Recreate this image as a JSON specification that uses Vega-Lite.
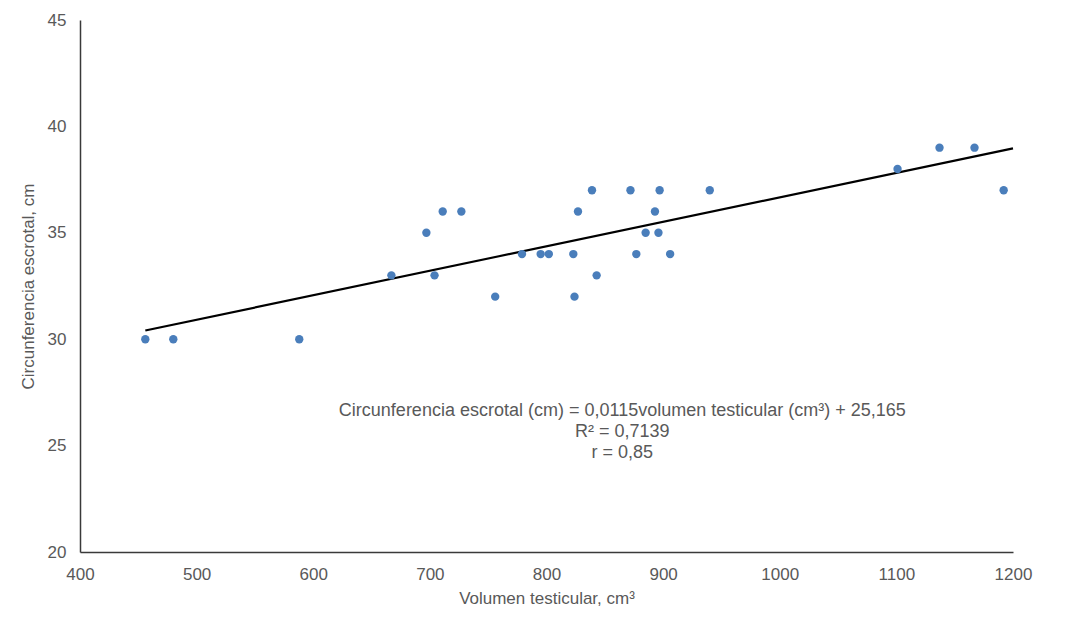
{
  "$schema": "https://vega.github.io/schema/vega-lite/v6.json",
  "width": 933,
  "height": 532,
  "autosize": {"type": "none"},
  "padding": {"left": 80, "top": 20, "right": 52, "bottom": 77},
  "background": "white",
  "config": {
    "view": {"stroke": null},
    "font": "Liberation Sans",
    "axis": {
      "labelFont": "Liberation Sans",
      "titleFont": "Liberation Sans",
      "labelFontSize": 17,
      "titleFontSize": 17,
      "labelColor": "#595959",
      "titleColor": "#595959",
      "titleFontWeight": "normal",
      "grid": false,
      "ticks": false,
      "labelFlush": false,
      "domainColor": "#3a3a3a",
      "domainWidth": 1.5
    }
  },
  "datasets": {
    "points": [
      {"vol": 456, "circ": 30},
      {"vol": 480, "circ": 30},
      {"vol": 588, "circ": 30},
      {"vol": 667, "circ": 33},
      {"vol": 697, "circ": 35},
      {"vol": 704, "circ": 33},
      {"vol": 711, "circ": 36},
      {"vol": 727, "circ": 36},
      {"vol": 756, "circ": 32},
      {"vol": 779, "circ": 34},
      {"vol": 795, "circ": 34},
      {"vol": 802, "circ": 34},
      {"vol": 823, "circ": 34},
      {"vol": 824, "circ": 32},
      {"vol": 827, "circ": 36},
      {"vol": 839, "circ": 37},
      {"vol": 843, "circ": 33},
      {"vol": 872, "circ": 37},
      {"vol": 877, "circ": 34},
      {"vol": 885, "circ": 35},
      {"vol": 893, "circ": 36},
      {"vol": 896, "circ": 35},
      {"vol": 897, "circ": 37},
      {"vol": 906, "circ": 34},
      {"vol": 940, "circ": 37},
      {"vol": 1101, "circ": 38},
      {"vol": 1137, "circ": 39},
      {"vol": 1167, "circ": 39},
      {"vol": 1192, "circ": 37}
    ],
    "trend": [
      {"vol": 456, "circ": 30.409},
      {"vol": 1200, "circ": 38.965}
    ],
    "note": [
      {"vol": 865, "circ": 26.63, "label": "Circunferencia escrotal (cm) = 0,0115volumen testicular (cm³) + 25,165\nR² = 0,7139\nr = 0,85"}
    ]
  },
  "layer": [
    {
      "data": {"name": "trend"},
      "mark": {"type": "line", "color": "#000000", "strokeWidth": 2.2},
      "encoding": {
        "x": {
          "field": "vol", "type": "quantitative",
          "scale": {"domain": [400, 1200], "nice": false, "zero": false},
          "axis": {"title": "Volumen testicular, cm³", "format": "d", "values": [400, 500, 600, 700, 800, 900, 1000, 1100, 1200], "labelPadding": 14, "titlePadding": 8}
        },
        "y": {
          "field": "circ", "type": "quantitative",
          "scale": {"domain": [20, 45], "nice": false, "zero": false},
          "axis": {"title": "Circunferencia escrotal, cm", "format": "d", "values": [20, 25, 30, 35, 40, 45], "labelPadding": 14, "titlePadding": 10}
        }
      }
    },
    {
      "data": {"name": "points"},
      "mark": {"type": "circle", "color": "#4a7ebb", "opacity": 1, "size": 70},
      "encoding": {
        "x": {"field": "vol", "type": "quantitative"},
        "y": {"field": "circ", "type": "quantitative"}
      }
    },
    {
      "data": {"name": "note"},
      "mark": {"type": "text", "fontSize": 18, "color": "#595959", "align": "center", "baseline": "middle", "lineBreak": "\n", "lineHeight": 21},
      "encoding": {
        "x": {"field": "vol", "type": "quantitative"},
        "y": {"field": "circ", "type": "quantitative"},
        "text": {"field": "label"}
      }
    }
  ]
}
